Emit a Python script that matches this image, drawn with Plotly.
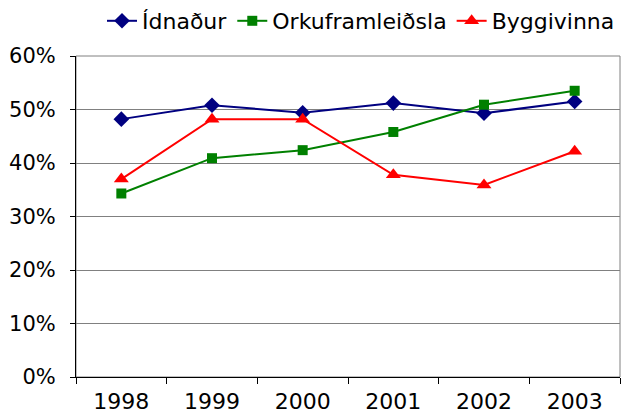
import plotly.graph_objects as go

years = ["1998", "1999", "2000", "2001", "2002", "2003"]
idnadur = [0.482, 0.508, 0.494, 0.512, 0.493, 0.515]
orku = [0.343, 0.409, 0.424, 0.458, 0.509, 0.535]
byggi = [0.370, 0.482, 0.482, 0.378, 0.359, 0.422]

_FONT = "Verdana, DejaVu Sans, sans-serif"
_GRID = "#808080"

fig = go.Figure()
series = [
    ("Ídnaður", idnadur, "#000080", "diamond", 12),
    ("Orkuframleiðsla", orku, "#008000", "square", 10),
    ("Byggivinna", byggi, "#ff0000", "triangle-up", 13),
]
for name, vals, color, sym, size in series:
    fig.add_trace(go.Scatter(
        x=years, y=vals, name=name, mode="lines+markers",
        line=dict(color=color, width=2),
        marker=dict(symbol=sym, size=size, color=color),
    ))

fig.update_layout(
    width=626, height=417,
    paper_bgcolor="white", plot_bgcolor="white",
    font=dict(family=_FONT, size=21, color="black"),
    margin=dict(l=76, r=6, t=56, b=40, autoexpand=False),
    legend=dict(orientation="h", x=1.0, xanchor="right", yref="container", y=1.0, yanchor="top",
                font=dict(size=22), bgcolor="rgba(0,0,0,0)"),
    xaxis=dict(type="category", range=[-0.5, 5.5], tickson="boundaries",
               ticks="outside", ticklen=6, tickcolor="black", ticklabelstandoff=5,
               tickfont=dict(size=22),
               showline=True, linecolor="black", linewidth=1, showgrid=False),
    yaxis=dict(range=[0, 0.6], dtick=0.1, tickformat=".0%",
               ticks="outside", ticklen=5, tickcolor="black", ticklabelstandoff=10,
               showline=True, linecolor="black", linewidth=1,
               showgrid=True, gridcolor=_GRID, gridwidth=1, zeroline=False),
    shapes=[dict(type="rect", xref="paper", yref="paper", x0=0, x1=1, y0=0, y1=1,
                 line=dict(color=_GRID, width=1), layer="below")],
)

# page has a default 8px body margin; drop it so the chart sits at 0,0
fig.write_html("out.html", config={"displayModeBar": False},
               post_script="document.body.style.margin='0px';")
